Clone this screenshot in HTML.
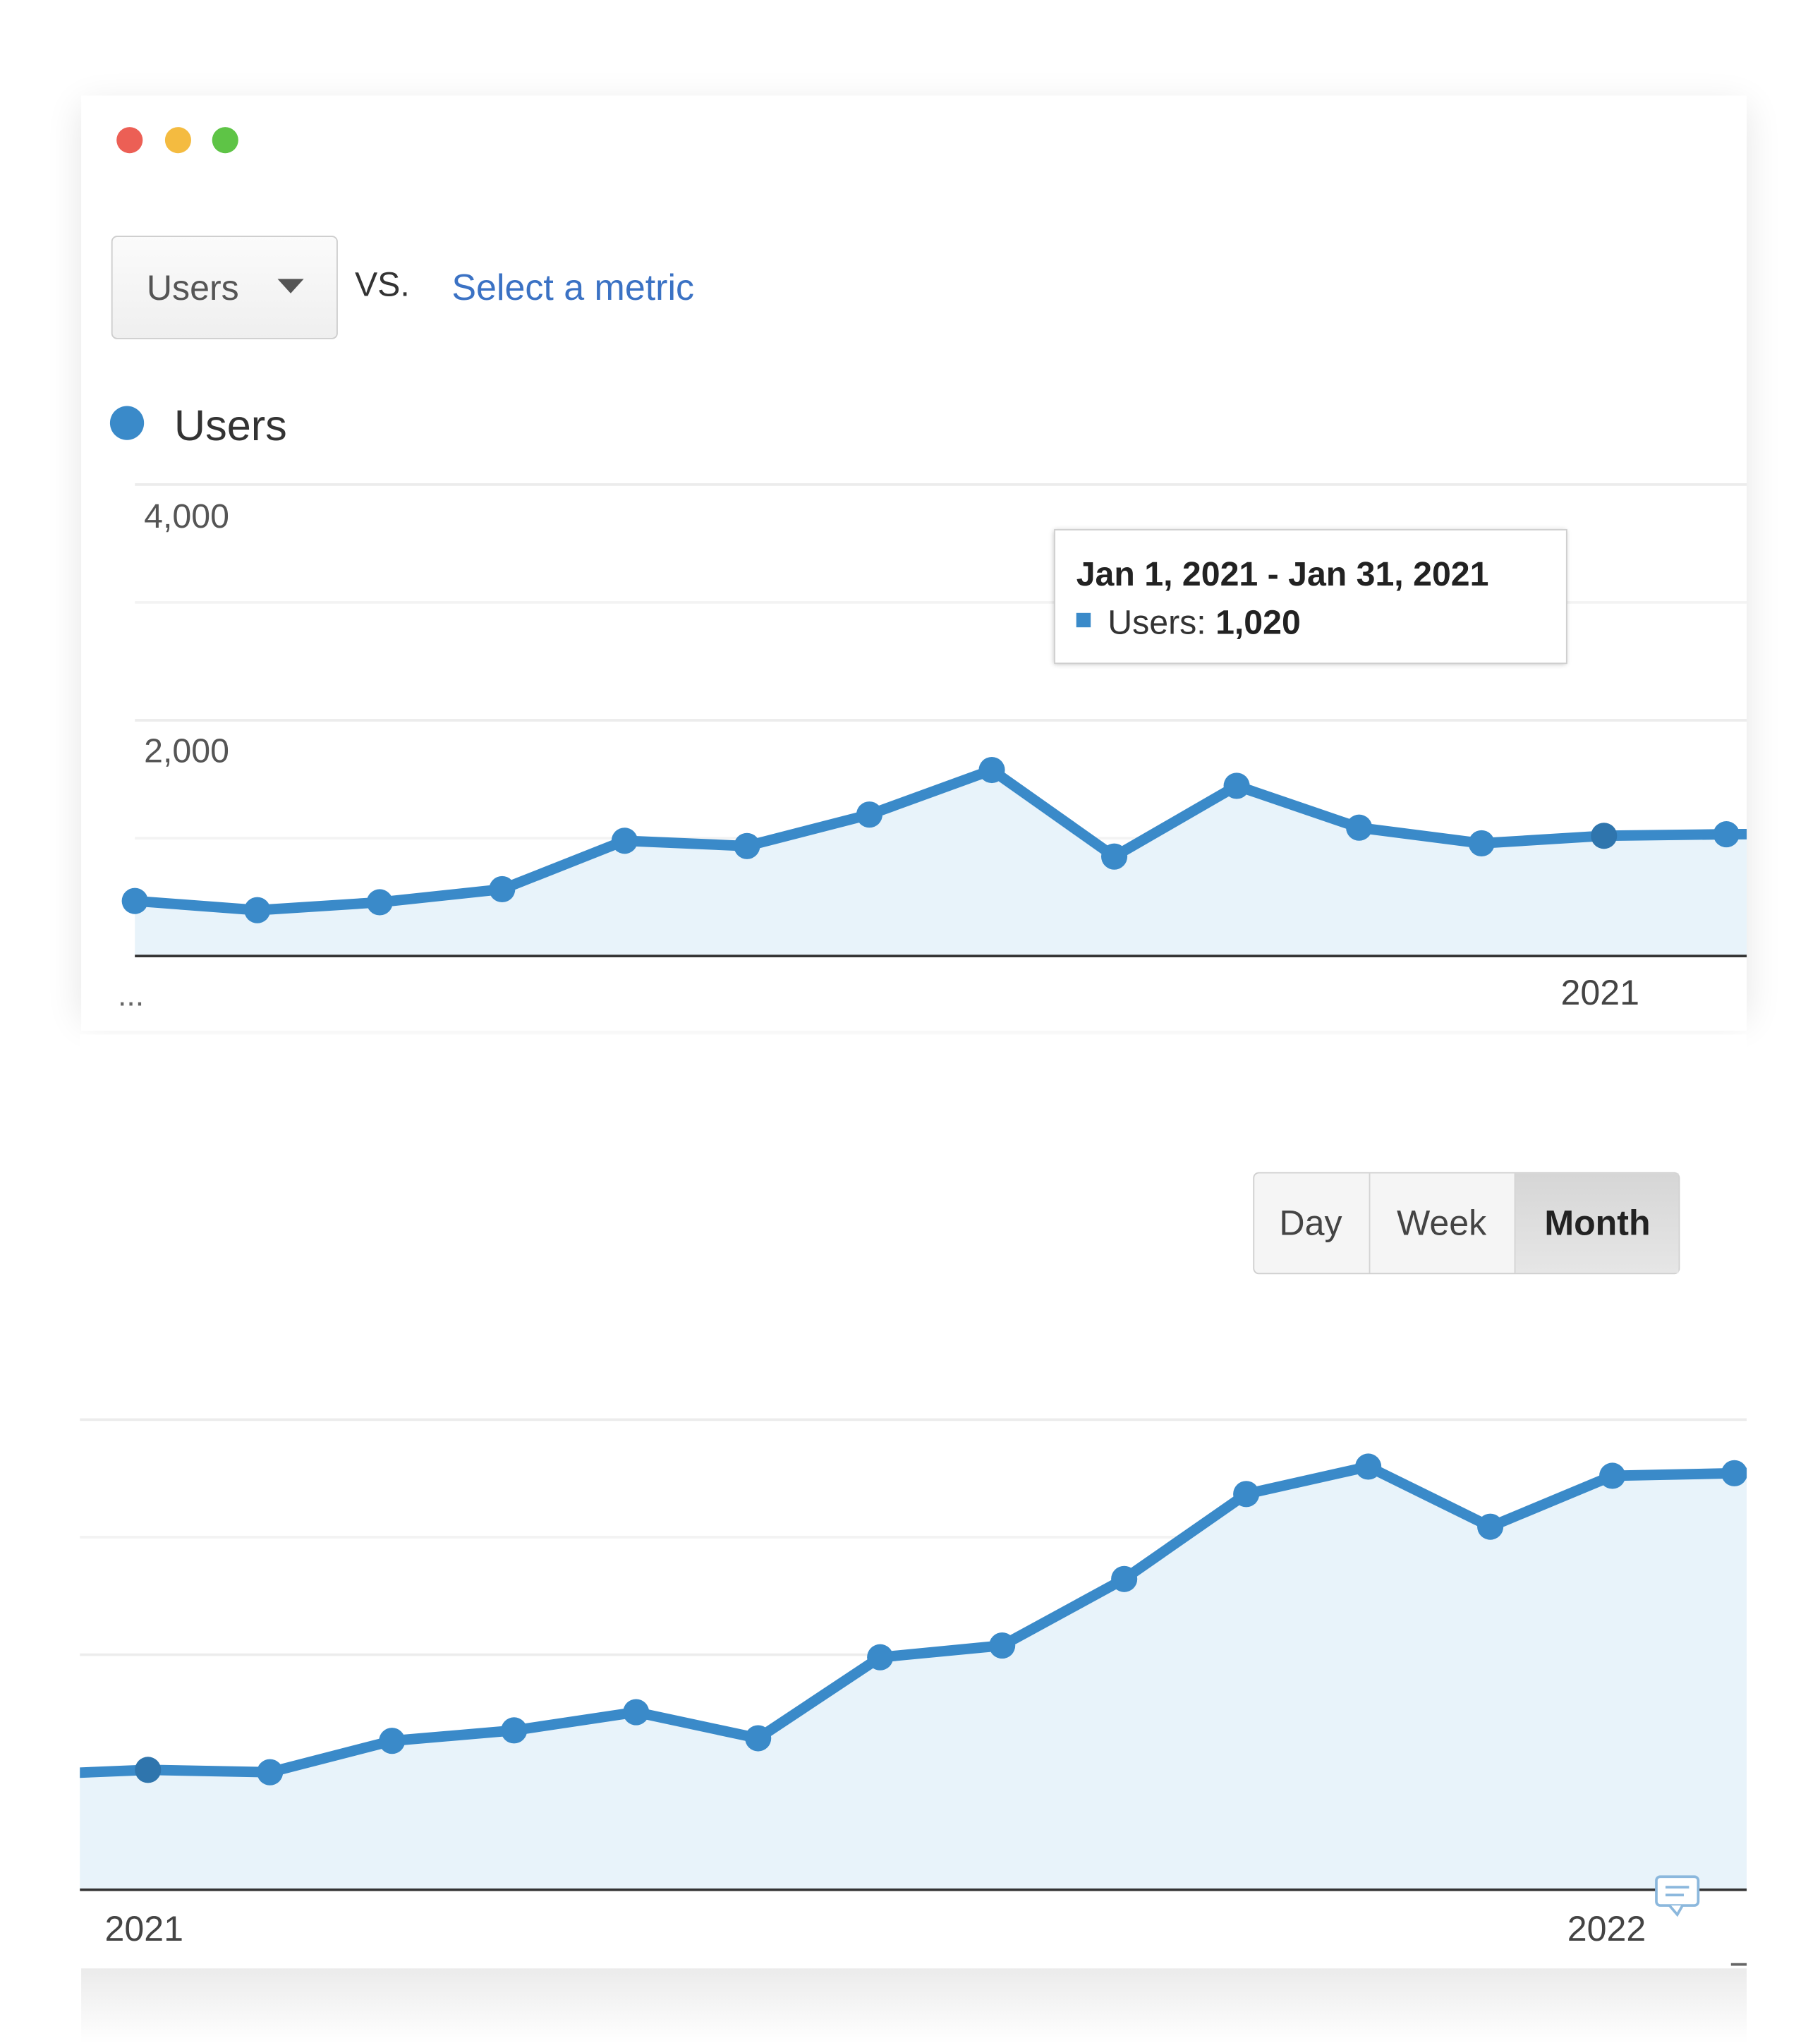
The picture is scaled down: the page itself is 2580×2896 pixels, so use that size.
<!DOCTYPE html>
<html><head><meta charset="utf-8"><style>
html,body{margin:0;padding:0;background:#fff;}
svg{display:block;font-family:"Liberation Sans",Arial,sans-serif;}
</style></head><body>
<svg id="root" width="2580" height="2896" viewBox="0 0 1390 1560" preserveAspectRatio="none" xmlns="http://www.w3.org/2000/svg">
<defs>
<filter id="sh" x="-10%" y="-10%" width="120%" height="120%"><feGaussianBlur stdDeviation="14"/></filter>
<filter id="tsh" x="-10%" y="-10%" width="120%" height="130%"><feGaussianBlur stdDeviation="2"/></filter>
<linearGradient id="btm" x1="0" y1="0" x2="0" y2="1"><stop offset="0" stop-color="#ebebeb"/><stop offset="1" stop-color="#fff"/></linearGradient>
<linearGradient id="dd" x1="0" y1="0" x2="0" y2="1"><stop offset="0" stop-color="#fbfbfb"/><stop offset="1" stop-color="#efefef"/></linearGradient>
<linearGradient id="mon" x1="0" y1="0" x2="0" y2="1"><stop offset="0" stop-color="#d6d6d6"/><stop offset="1" stop-color="#e6e6e6"/></linearGradient>
<clipPath id="c1"><rect x="62" y="300" width="1272" height="440"/></clipPath>
<clipPath id="c2"><rect x="61" y="1000" width="1273" height="450"/></clipPath>
</defs>
<rect x="62" y="80" width="1272" height="700" fill="#000" opacity="0.10" filter="url(#sh)"/>
<rect x="62" y="1503" width="1272" height="57" fill="url(#btm)"/>
<rect x="62" y="73" width="1272" height="714" fill="#fff"/>
<rect x="61" y="790" width="1273" height="713" fill="#fff"/>
<circle cx="99" cy="107" r="10" fill="#ec5f55"/>
<circle cx="136" cy="107" r="10" fill="#f4bb40"/>
<circle cx="172" cy="107" r="10" fill="#5ec446"/>
<g>
<rect x="85.5" y="180.5" width="172" height="78" rx="4" fill="url(#dd)" stroke="#cdcdcd"/>
<text x="112" y="229" font-size="27" fill="#555">Users</text>
<path d="M212 213 L232 213 L222 224 Z" fill="#555"/>
</g>
<text x="271" y="226" font-size="26" fill="#333">VS.</text>
<text x="345" y="229" font-size="28" fill="#3b72c4">Select a metric</text>
<g>
<circle cx="97" cy="323" r="13" fill="#3a8ac9"/>
<text x="133" y="336" font-size="33" fill="#333">Users</text>
</g>
<g id="chart1"></g>
<text x="110" y="403" font-size="26" fill="#555">4,000</text>
<text x="110" y="582" font-size="26" fill="#555">2,000</text>
<text x="90" y="768" font-size="24" fill="#666">...</text>
<text x="1192" y="767" font-size="27" fill="#444">2021</text>
<g>
<rect x="805" y="405" width="391" height="102" fill="#000" opacity="0.25" filter="url(#tsh)"/>
<rect x="805.5" y="404.5" width="391" height="102" fill="#fff" stroke="#cfcfcf"/>
<text x="822" y="447" font-size="26" font-weight="bold" fill="#222">Jan 1, 2021 - Jan 31, 2021</text>
<rect x="822" y="468" width="11" height="11" fill="#3a8ac9"/>
<text x="846" y="484" font-size="26" fill="#333">Users: <tspan font-weight="bold" fill="#222">1,020</tspan></text>
</g>
<g>
<rect x="957.5" y="895.5" width="325" height="77" rx="4" fill="#f5f5f5" stroke="#cfcfcf"/>
<rect x="1157" y="896" width="125" height="76" fill="url(#mon)"/>
<line x1="1046" y1="896" x2="1046" y2="972" stroke="#d4d4d4"/>
<line x1="1157" y1="896" x2="1157" y2="972" stroke="#d4d4d4"/>
<text x="1001" y="943" font-size="27" fill="#444" text-anchor="middle">Day</text>
<text x="1101" y="943" font-size="27" fill="#444" text-anchor="middle">Week</text>
<text x="1220" y="943" font-size="27" fill="#222" font-weight="bold" text-anchor="middle">Month</text>
</g>
<g id="chart2"></g>
<text x="80" y="1482" font-size="27" fill="#444">2021</text>
<text x="1197" y="1482" font-size="27" fill="#444">2022</text>
<g>
<rect x="1265" y="1433" width="32" height="22" rx="3" fill="#fff" stroke="#8cb8dd" stroke-width="2"/>
<path d="M1275 1455 L1281 1462 L1285 1455" fill="#fff" stroke="#8cb8dd" stroke-width="2"/>
<line x1="1272" y1="1441" x2="1290" y2="1441" stroke="#8cb8dd" stroke-width="2"/>
<line x1="1272" y1="1447" x2="1286" y2="1447" stroke="#8cb8dd" stroke-width="2"/>
</g>
<line x1="1322" y1="1500" x2="1334" y2="1500" stroke="#666" stroke-width="2"/>
</svg>
<script>
const topMonths = ["Jan 2020","Feb 2020","Mar 2020","Apr 2020","May 2020","Jun 2020","Jul 2020","Aug 2020","Sep 2020","Oct 2020","Nov 2020","Dec 2020","Jan 2021","Feb 2021","Mar 2021"];
const topUsers = [467,389,456,567,978,933,1200,1578,844,1444,1089,956,1020,1033,1040];
const bottomMonths = ["Dec 2020","Jan 2021","Feb 2021","Mar 2021","Apr 2021","May 2021","Jun 2021","Jul 2021","Aug 2021","Sep 2021","Oct 2021","Nov 2021","Dec 2021","Jan 2022","Feb 2022","Mar 2022"];
const bottomUsers = [978,1020,1000,1267,1356,1511,1289,1978,2078,2644,3367,3600,3089,3522,3544,3560];
const yTicks = [0,1000,2000,3000,4000];
const NS = "http://www.w3.org/2000/svg";
function mk(tag, attrs, parent){const e=document.createElementNS(NS,tag);for(const k in attrs)e.setAttribute(k,attrs[k]);parent.appendChild(e);return e;}
function draw(g, months, vals, cfg){
  const xs = i => cfg.x0 + (i - cfg.i0) * cfg.step;
  const ys = v => cfg.base - v * (cfg.base - cfg.top) / 4000;
  yTicks.forEach(t=>{ if(t===0) return;
    const l=mk("line",{x1:cfg.gx0,x2:1334,y1:ys(t),y2:ys(t),stroke:t%2000===0?"#ececec":"#f3f3f3","stroke-width":2},g);
    
    
  });
  const cg = mk("g",{"clip-path":cfg.clip},g);
  let pts = vals.map((v,i)=>xs(i)+","+ys(v));
  const area = mk("polygon",{points:xs(0)+","+cfg.base+" "+pts.join(" ")+" "+xs(vals.length-1)+","+cfg.base,fill:"#e8f3fa"},cg);
  
  
  const line = mk("polyline",{points:pts.join(" "),fill:"none",stroke:"#3a8ac9","stroke-width":8,"stroke-linejoin":"round"},cg);
  
  
  vals.forEach((v,i)=>{
    if(i < cfg.firstDot) return;
    const c = mk("circle",{cx:xs(i),cy:ys(v),r:10,fill:months[i]===cfg.hover?"#2f75ad":"#3a8ac9"},cg);
    
    
  });
  const ax = mk("line",{x1:cfg.gx0,x2:1334,y1:cfg.base,y2:cfg.base,stroke:"#333","stroke-width":2},g);
  
  
}
draw(document.getElementById('chart1'), topMonths, topUsers, {x0:103,i0:0,step:93.5,base:730,top:370,gx0:103,clip:"url(#c1)",firstDot:0,hover:"Jan 2021"});
draw(document.getElementById('chart2'), bottomMonths, bottomUsers, {x0:113,i0:1,step:93.2,base:1443,top:1084,gx0:61,clip:"url(#c2)",firstDot:1,hover:"Jan 2021"});
</script>
</body></html>
